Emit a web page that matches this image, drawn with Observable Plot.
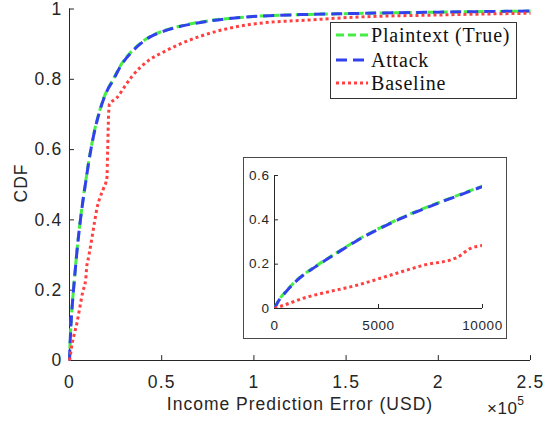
<!DOCTYPE html>
<html>
<head>
<meta charset="utf-8">
<script src="https://cdn.jsdelivr.net/npm/d3@7"></script>
<script src="https://cdn.jsdelivr.net/npm/@observablehq/plot@0.6"></script>
<style>
  body { margin: 0; background: #fff; }
  #wrap { position: relative; width: 549px; height: 421px; font-family: "Liberation Sans", Arial, sans-serif; color: #262626; }
  #main { position: absolute; left: 0; top: 0; }
  #inset { position: absolute; left: 243px; top: 157px; width: 262px; height: 180px; border: 1.5px solid #4a4a4a; background: #fff; }
  #legend { position: absolute; left: 330px; top: 22px; width: 185px; height: 75px; border: 1px solid #333; background: #fff; font-family: "Liberation Serif", "Times New Roman", serif; font-size: 20px; letter-spacing: 0.8px; color: #111; }
  .lab { position: absolute; white-space: nowrap; font-size: 17px; letter-spacing: 1px; }
</style>
</head>
<body>
<div id="wrap">
  <div id="main"></div>
  <div id="inset"></div>
  <div id="legend"></div>
  <div class="lab" id="xlabel" style="left:0;width:600px;text-align:center;top:394px;font-size:17.5px;">Income Prediction Error (USD)</div>
  <div class="lab" id="ylabel" style="left:21px;top:183px;transform:translate(-50%,-50%) rotate(-90deg);font-size:17.5px;">CDF</div>
  <div class="lab" style="left:487px;top:396px;font-size:17px;letter-spacing:0.5px;">×10<sup style="font-size:12px;position:relative;top:-2px;">5</sup></div>
</div>
<script>
// ---- data ----
const seriesNames = ["Plaintext (True)", "Attack", "Baseline"];
const seriesColors = ["#44ee44", "#3340ee", "#ff4040"];

// Plaintext (True) CDF
const plainX = [0, 200, 500, 1000, 2000, 3000, 4000, 5000, 6000, 7000, 8000, 9000, 10000, 13000, 16300, 20000, 23400, 28000, 34200, 43500, 50000, 59800, 75000, 97800, 125000, 152000, 200000, 250000];
const plainY = [0, 0.036, 0.072, 0.122, 0.192, 0.252, 0.31, 0.36, 0.405, 0.445, 0.482, 0.517, 0.552, 0.64, 0.71, 0.765, 0.797, 0.842, 0.882, 0.921, 0.936, 0.951, 0.966, 0.978, 0.984, 0.987, 0.991, 0.994];
// Attack CDF (nearly identical to plaintext)
const attackX = [0, 200, 500, 1000, 2000, 3000, 4000, 5000, 6000, 7000, 8000, 9000, 10000, 13000, 16300, 20000, 23400, 28000, 34200, 43500, 50000, 59800, 75000, 97800, 125000, 152000, 200000, 250000];
const attackY = [0, 0.035, 0.07, 0.12, 0.19, 0.25, 0.308, 0.358, 0.403, 0.443, 0.48, 0.515, 0.55, 0.638, 0.708, 0.763, 0.795, 0.84, 0.88, 0.92, 0.935, 0.95, 0.965, 0.978, 0.984, 0.987, 0.991, 0.994];
// Baseline CDF
const baseX = [0, 300, 750, 1500, 2350, 3960, 5560, 7160, 8770, 9400, 10000, 10900, 12200, 13600, 15200, 16300, 18500, 20300, 20700, 21200, 21700, 25500, 30000, 34200, 43500, 50000, 59800, 70700, 97800, 134000, 152000, 200000, 250000];
const baseY = [0, 0.01, 0.025, 0.05, 0.07, 0.105, 0.15, 0.195, 0.23, 0.27, 0.285, 0.31, 0.35, 0.395, 0.44, 0.46, 0.49, 0.52, 0.6, 0.7, 0.73, 0.746, 0.78, 0.81, 0.856, 0.875, 0.9, 0.922, 0.956, 0.97, 0.976, 0.983, 0.988];

const mainXTicks = [0, 50000, 100000, 150000, 200000, 250000];
const mainYTicks = [0, 0.2, 0.4, 0.6, 0.8, 1];
const insetXTicks = [0, 5000, 10000];
const insetYTicks = [0, 0.2, 0.4, 0.6];

// ---- build ----
const toRows = (xs, ys) => xs.map((x, i) => ({x, y: ys[i]}));
const plain = toRows(plainX, plainY);
const attack = toRows(attackX, attackY);
const base = toRows(baseX, baseY);
const axisColor = "#262626";

const styles = [
  {stroke: seriesColors[0], strokeWidth: 3, strokeDasharray: "8,4"},
  {stroke: seriesColors[1], strokeWidth: 3, strokeDasharray: "11,6"},
  {stroke: seriesColors[2], strokeWidth: 3, strokeDasharray: "3,3"}
];

function curveMarks(clip) {
  return [plain, attack, base].map((d, i) =>
    Plot.line(d, {x: "x", y: "y", ...styles[i], clip, strokeLinecap: "butt", curve: "monotone-x"}));
}

const main = Plot.plot({
  width: 549, height: 421,
  marginLeft: 69, marginRight: 19, marginTop: 8.5, marginBottom: 61,
  style: {fontFamily: "Liberation Sans, Arial, sans-serif", fontSize: "17.5px", color: axisColor, letterSpacing: "1.2px", background: "transparent"},
  x: {domain: [0, 250000]},
  y: {domain: [0, 1]},
  marks: [
    Plot.axisX(mainXTicks, {tickSize: 0, tickPadding: 15, tickFormat: d => String(d / 1e5), label: null}),
    Plot.axisY(mainYTicks, {tickSize: 0, tickPadding: 7, tickFormat: d => String(d), label: null}),
    Plot.ruleX(mainXTicks, {x: d => d, y1: 0, y2: 0.014, stroke: axisColor}),
    Plot.ruleY(mainYTicks, {y: d => d, x1: 0, x2: 2700, stroke: axisColor}),
    Plot.ruleX([0], {y1: 0, y2: 1, stroke: axisColor}),
    Plot.ruleY([0], {x1: 0, x2: 250000, stroke: axisColor}),
    ...curveMarks(false)
  ]
});
document.getElementById("main").appendChild(main);

const inset = Plot.plot({
  width: 262, height: 180,
  marginLeft: 30, marginRight: 24, marginTop: 17, marginBottom: 30,
  style: {fontFamily: "Liberation Sans, Arial, sans-serif", fontSize: "13.5px", color: axisColor, letterSpacing: "0.6px", background: "transparent"},
  x: {domain: [0, 10000]},
  y: {domain: [0, 0.6]},
  marks: [
    Plot.axisX(insetXTicks, {tickSize: 0, tickPadding: 12, tickFormat: d => String(d), label: null}),
    Plot.axisY(insetYTicks, {tickSize: 0, tickPadding: 5, tickFormat: d => String(d), label: null}),
    Plot.ruleX(insetXTicks, {x: d => d, y1: 0, y2: 0.018, stroke: axisColor}),
    Plot.ruleY(insetYTicks, {y: d => d, x1: 0, x2: 190, stroke: axisColor}),
    Plot.ruleX([0], {y1: 0, y2: 0.6, stroke: axisColor}),
    Plot.ruleY([0], {x1: 0, x2: 10000, stroke: axisColor}),
    ...curveMarks(true)
  ]
});
document.getElementById("inset").appendChild(inset);

// legend
const leg = document.getElementById("legend");
const rowY = [12, 37, 60];
seriesNames.forEach((name, i) => {
  const row = document.createElement("div");
  row.style.cssText = `position:absolute;left:4px;top:${rowY[i] - 12}px;height:24px;display:flex;align-items:center;`;
  const s = styles[i];
  row.innerHTML = `<svg width="33" height="24" style="margin-right:3px"><line x1="1" x2="33" y1="12" y2="12" stroke="${s.stroke}" stroke-width="3" stroke-dasharray="${s.strokeDasharray}"/></svg><span>${name}</span>`;
  leg.appendChild(row);
});
</script>
</body>
</html>
